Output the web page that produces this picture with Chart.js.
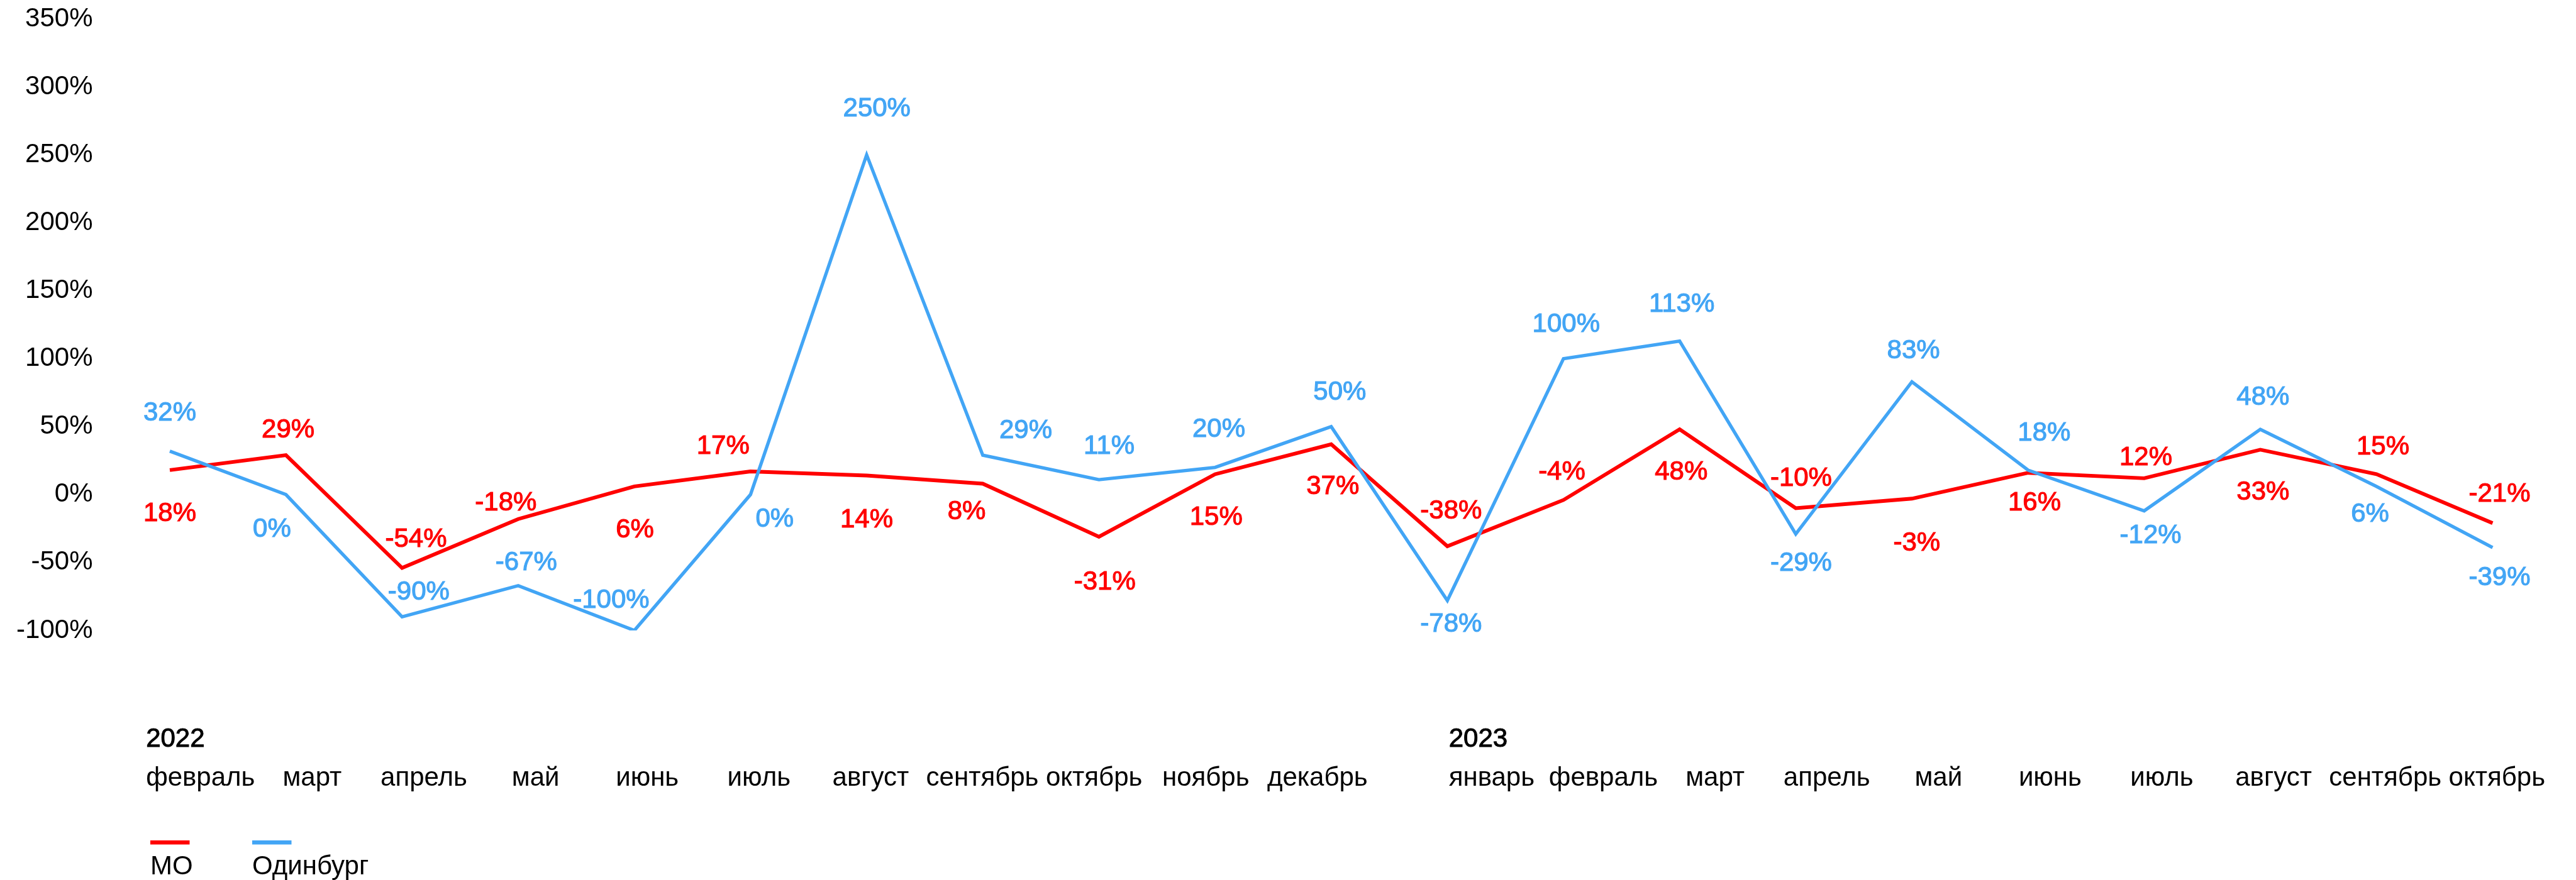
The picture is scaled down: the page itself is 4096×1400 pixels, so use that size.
<!DOCTYPE html>
<html>
<head>
<meta charset="utf-8">
<script src="https://cdn.jsdelivr.net/npm/chart.js@4.4.1/dist/chart.umd.min.js"></script>
<style>
  html, body { margin: 0; padding: 0; background: #ffffff; }
  canvas { display: block; }
</style>
</head>
<body>
<canvas id="chart" width="4096" height="1400"></canvas>
<script>
// ---------- data ----------
const years = ['2022', '2023'];
const months2022 = ['февраль', 'март', 'апрель', 'май', 'июнь', 'июль', 'август', 'сентябрь', 'октябрь', 'ноябрь', 'декабрь'];
const months2023 = ['январь', 'февраль', 'март', 'апрель', 'май', 'июнь', 'июль', 'август', 'сентябрь', 'октябрь'];
const categories = months2022.map(m => m + ' 2022').concat(months2023.map(m => m + ' 2023'));
const seriesNames = ['МО', 'Одинбург'];
const moValues = [18, 29, -54, -18, 6, 17, 14, 8, -31, 15, 37, -38, -4, 48, -10, -3, 16, 12, 33, 15, -21];
const odinburgValues = [32, 0, -90, -67, -100, 0, 250, 29, 11, 20, 50, -78, 100, 113, -29, 83, 18, -12, 48, 6, -39];
const yTickMin = -100;
const yTickMax = 350;
const yTickStep = 50;

// ---------- layout / style ----------
const S = 0.854;
const FONT = '"Liberation Sans", Arial, Helvetica, sans-serif';
const FONT_SIZE = 42;
const RED = '#ff0000';
const BLUE = '#42a5f5';
const YEAR_GAP = 0.56;                 // extra space between the two years on the month axis
const MONTH_AXIS_MIN = -0.2748;
const MONTH_AXIS_MAX = 20.521;

// value label placement: offset from the point, in reference pixels
const moLabelDx = [0, 4, 26, -23, 1, -51, 0, -30, 11, 2, 3, 7, -3, 3, 10, 9, 12, 3, 5, 12, 13];
const moLabelDy = [81, -47, -53, -30, 81, -47, 83, 52, 85, 81, 79, -65, -52, 80, -55, 83, 57, -38, 80, -50, -54];
const odLabelDx = [0, -26, 31, 15, -43, 45, 19, 80, 19, 7, 16, 7, 5, 4, 10, 3, 30, 12, 5, -12, 13];
const odLabelDy = [-71, 65, -46, -42, -56, 46, -86, -45, -62, -70, -64, 45, -64, -68, 55, -57, -69, 46, -59, 52, 56];

const monthLabels = months2022.concat(months2023);
const monthPos = months2022.map((_, k) => k)
  .concat(months2023.map((_, k) => months2022.length + YEAR_GAP + k));
const yearFirstIdx = [0, months2022.length];

Chart.defaults.font.family = FONT;
Chart.defaults.font.size = FONT_SIZE;
Chart.defaults.color = '#000000';

const valueLabels = {
  id: 'valueLabels',
  afterDatasetsDraw(chart) {
    const ctx = chart.ctx;
    ctx.save();
    ctx.font = FONT_SIZE + 'px ' + FONT;
    ctx.textAlign = 'center';
    ctx.textBaseline = 'middle';
    chart.data.datasets.forEach((ds, di) => {
      const meta = chart.getDatasetMeta(di);
      meta.data.forEach((pt, i) => {
        const x = pt.x + ds.labelDx[i] * S;
        const y = pt.y + ds.labelDy[i] * S;
        const txt = ds.data[i] + '%';
        ctx.fillStyle = ds.borderColor;
        ctx.strokeStyle = ds.borderColor;
        ctx.lineWidth = 1.1;
        ctx.strokeText(txt, x, y);
        ctx.fillText(txt, x, y);
      });
    });
    ctx.restore();
  }
};

const stackedLegend = {
  id: 'stackedLegend',
  afterDraw(chart) {
    const ctx = chart.ctx;
    const x0 = 239, step = 162, swY = 1337, swW = 62.5, swH = 6.5, textY = 1390.5;
    ctx.save();
    ctx.font = FONT_SIZE + 'px ' + FONT;
    ctx.textAlign = 'left';
    ctx.textBaseline = 'alphabetic';
    seriesNames.forEach((name, i) => {
      const ds = chart.data.datasets.find(d => d.label === name);
      const x = x0 + i * step;
      ctx.fillStyle = ds.borderColor;
      ctx.fillRect(x, swY, swW, swH);
      ctx.fillStyle = '#000000';
      ctx.fillText(name, x, textY);
    });
    ctx.restore();
  }
};

const noGrid = { display: false, drawTicks: false };
const noBorder = { display: false };

new Chart(document.getElementById('chart'), {
  type: 'line',
  data: {
    labels: categories,
    datasets: [
      {
        label: seriesNames[0],
        data: moValues,
        borderColor: RED,
        backgroundColor: RED,
        borderWidth: 5.9,
        labelDx: moLabelDx,
        labelDy: moLabelDy,
        order: 1,
        xAxisID: 'x', yAxisID: 'y'
      },
      {
        label: seriesNames[1],
        data: odinburgValues,
        borderColor: BLUE,
        backgroundColor: BLUE,
        borderWidth: 5.3,
        labelDx: odLabelDx,
        labelDy: odLabelDy,
        order: 0,
        xAxisID: 'x', yAxisID: 'y'
      }
    ]
  },
  options: {
    responsive: false,
    maintainAspectRatio: false,
    devicePixelRatio: 1,
    animation: false,
    events: [],
    elements: {
      line: { tension: 0, borderJoinStyle: 'miter', borderCapStyle: 'butt', fill: false },
      point: { radius: 0, hoverRadius: 0 }
    },
    layout: { padding: { top: 30.2, left: 0, right: 132.6, bottom: 136.8 } },
    plugins: { legend: { display: false }, tooltip: { enabled: false } },
    scales: {
      x: {
        type: 'category',
        display: false,
        offset: false,
        grid: noGrid,
        border: noBorder
      },
      y: {
        type: 'linear',
        position: 'left',
        min: yTickMin,
        max: yTickMax,
        grid: noGrid,
        border: noBorder,
        ticks: {
          stepSize: yTickStep,
          padding: 122.5,
          color: '#000000',
          font: { family: FONT, size: FONT_SIZE },
          callback: v => v + '%'
        },
        afterFit: s => {
          s.width = 270;
          s.paddingTop = 26;
          s.paddingBottom = 26;
        }
      },
      xy: {
        type: 'linear',
        position: 'bottom',
        weight: 1,
        bounds: 'data',
        min: MONTH_AXIS_MIN,
        max: MONTH_AXIS_MAX,
        grid: noGrid,
        border: noBorder,
        ticks: {
          align: 'start',
          autoSkip: false,
          maxRotation: 0,
          minRotation: 0,
          padding: 148,
          color: '#000000',
          textStrokeColor: '#000000',
          textStrokeWidth: 1,
          font: { family: FONT, size: FONT_SIZE },
          callback: (v, i) => years[i]
        },
        afterBuildTicks: scale => {
          const ctx = scale.ctx;
          ctx.save();
          ctx.font = FONT_SIZE + 'px ' + FONT;
          const ppu = scale.width / (scale.max - scale.min);
          scale.ticks = yearFirstIdx.map(i => ({
            value: monthPos[i] - ctx.measureText(monthLabels[i]).width / 2 / ppu
          }));
          ctx.restore();
        },
        afterFit: s => {
          s.height = 198.4;
          s.paddingLeft = 0;
          s.paddingRight = 0;
        }
      },
      xm: {
        type: 'linear',
        position: 'bottom',
        weight: 2,
        bounds: 'data',
        min: MONTH_AXIS_MIN,
        max: MONTH_AXIS_MAX,
        grid: noGrid,
        border: noBorder,
        ticks: {
          autoSkip: false,
          maxRotation: 0,
          minRotation: 0,
          padding: 11.4,
          color: '#000000',
          font: { family: FONT, size: FONT_SIZE },
          callback: (v, i) => monthLabels[i]
        },
        afterBuildTicks: scale => {
          scale.ticks = monthPos.map(v => ({ value: v }));
        },
        afterFit: s => {
          s.height = 61.8;
          s.paddingLeft = 0;
          s.paddingRight = 0;
        }
      }
    }
  },
  plugins: [valueLabels, stackedLegend]
});
</script>
</body>
</html>
